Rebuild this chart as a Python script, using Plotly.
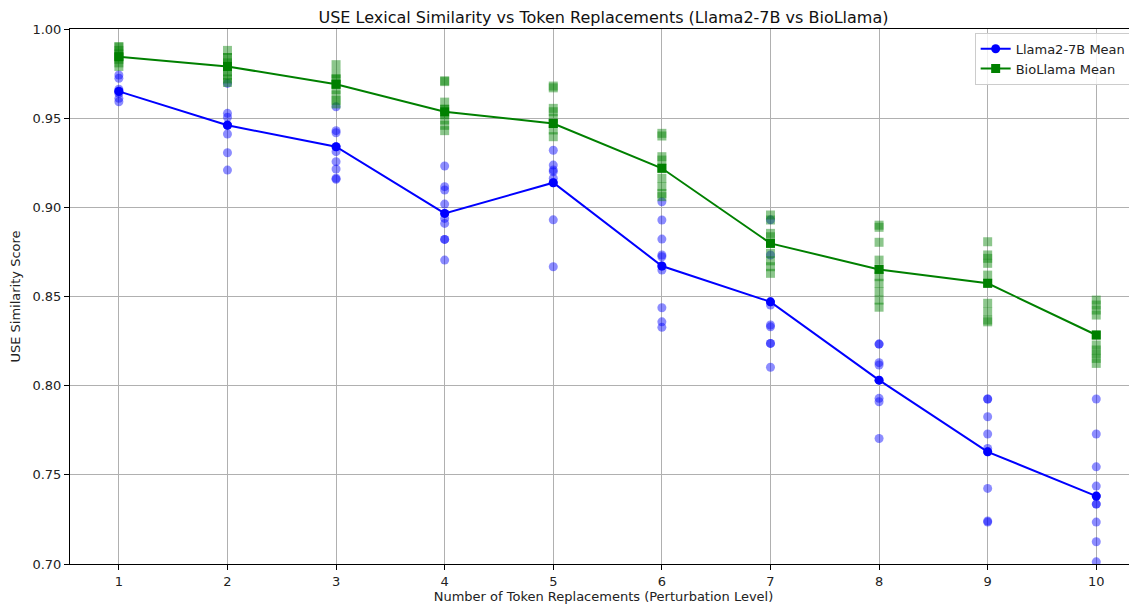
import plotly.graph_objects as go

levels = [1, 2, 3, 4, 5, 6, 7, 8, 9, 10]

llama_mean = [0.965, 0.946, 0.934, 0.8966, 0.9138, 0.8671, 0.847, 0.8031, 0.7629, 0.7381]
bio_mean = [0.9845, 0.979, 0.969, 0.9536, 0.947, 0.9219, 0.8798, 0.8652, 0.8574, 0.8284]

llama_samples = [
    [0.9742, 0.9724, 0.9662, 0.9652, 0.9639, 0.9611, 0.9592, 0.965],
    [0.9695, 0.9527, 0.9505, 0.9462, 0.9411, 0.9306, 0.9209, 0.946],
    [0.9564, 0.943, 0.9418, 0.934, 0.9312, 0.9256, 0.9215, 0.9163, 0.9157],
    [0.9232, 0.9116, 0.9097, 0.9018, 0.8966, 0.8938, 0.891, 0.882, 0.8704, 0.882],
    [0.932, 0.9237, 0.921, 0.9163, 0.9138, 0.893, 0.8667, 0.92],
    [0.9031, 0.8929, 0.8822, 0.8733, 0.8723, 0.8671, 0.8648, 0.8437, 0.8358, 0.8327],
    [0.893, 0.8733, 0.847, 0.8452, 0.834, 0.833, 0.8237, 0.8103, 0.8237],
    [0.8233, 0.8129, 0.8116, 0.8031, 0.7929, 0.791, 0.7704, 0.8233],
    [0.7925, 0.7826, 0.7729, 0.7648, 0.7629, 0.7424, 0.7241, 0.7235, 0.7925],
    [0.7925, 0.7729, 0.7545, 0.7437, 0.7381, 0.7336, 0.7235, 0.7125, 0.7012, 0.7336],
]

bio_samples = [
    [0.990, 0.988, 0.986, 0.985, 0.984, 0.983, 0.981, 0.979, 0.990],
    [0.988, 0.984, 0.981, 0.979, 0.976, 0.974, 0.972, 0.970, 0.984],
    [0.980, 0.975, 0.972, 0.969, 0.966, 0.963, 0.960, 0.958, 0.972],
    [0.9705, 0.971, 0.959, 0.955, 0.952, 0.949, 0.946, 0.943, 0.955],
    [0.968, 0.967, 0.9555, 0.9536, 0.947, 0.9434, 0.9396, 0.950],
    [0.9415, 0.940, 0.9284, 0.9265, 0.9219, 0.9163, 0.9116, 0.9078, 0.906],
    [0.8957, 0.8929, 0.8854, 0.8835, 0.8798, 0.8742, 0.870, 0.8667, 0.863],
    [0.890, 0.8888, 0.8804, 0.8704, 0.8652, 0.8611, 0.8574, 0.8527, 0.848, 0.844],
    [0.8807, 0.8733, 0.8714, 0.8686, 0.862, 0.8574, 0.8462, 0.8414, 0.8368, 0.8358],
    [0.848, 0.8452, 0.8424, 0.8396, 0.8284, 0.8228, 0.820, 0.8177, 0.8153, 0.8125],
]

BLUE = "#0000ff"
GREEN = "#008000"

fig = go.Figure()

lx, ly = [], []
for lv, vals in zip(levels, llama_samples):
    lx += [lv] * len(vals)
    ly += vals
bx, by = [], []
for lv, vals in zip(levels, bio_samples):
    bx += [lv] * len(vals)
    by += vals

fig.add_trace(go.Scatter(x=lx, y=ly, mode="markers", showlegend=False,
                         marker=dict(symbol="circle", size=9, color=BLUE, opacity=0.45,
                                     line=dict(width=0))))
fig.add_trace(go.Scatter(x=bx, y=by, mode="markers", showlegend=False,
                         marker=dict(symbol="square", size=9, color=GREEN, opacity=0.45,
                                     line=dict(width=0))))

fig.add_trace(go.Scatter(x=levels, y=llama_mean, mode="lines+markers", name="Llama2-7B Mean",
                         line=dict(color=BLUE, width=2),
                         marker=dict(symbol="circle", size=9, color=BLUE)))
fig.add_trace(go.Scatter(x=levels, y=bio_mean, mode="lines+markers", name="BioLlama Mean",
                         line=dict(color=GREEN, width=2),
                         marker=dict(symbol="square", size=9, color=GREEN)))

font = "DejaVu Sans, Arial, sans-serif"
fig.update_layout(
    width=1129, height=599,
    margin=dict(l=62, r=0, t=21, b=43),
    paper_bgcolor="white", plot_bgcolor="white",
    font=dict(family=font, size=13, color="#222222"),
    title=dict(text="USE Lexical Similarity vs Token Replacements (Llama2-7B vs BioLlama)",
               x=0.5, xref="paper", xanchor="center",
               y=0.993, yref="container", yanchor="top", pad=dict(t=0, b=0),
               font=dict(size=16, color="#111111")),
    legend=dict(x=0.995, y=0.993, xanchor="right", yanchor="top",
                bgcolor="rgba(255,255,255,0.8)", bordercolor="#cccccc", borderwidth=1,
                font=dict(size=13)),
    showlegend=True,
)
fig.update_xaxes(range=[0.55, 10.375], tickmode="array", tickvals=levels,
                 ticktext=[str(v) for v in levels],
                 showgrid=True, gridcolor="#b0b0b0", gridwidth=1,
                 showline=True, linecolor="black", linewidth=1, mirror=True,
                 ticks="outside", ticklen=5, tickcolor="black",
                 zeroline=False,
                 title=dict(text="Number of Token Replacements (Perturbation Level)", standoff=3,
                            font=dict(size=13)))
fig.update_yaxes(range=[0.70, 1.00], tickmode="array",
                 tickvals=[0.70, 0.75, 0.80, 0.85, 0.90, 0.95, 1.00],
                 ticktext=["0.70", "0.75", "0.80", "0.85", "0.90", "0.95", "1.00"],
                 showgrid=True, gridcolor="#b0b0b0", gridwidth=1,
                 showline=True, linecolor="black", linewidth=1, mirror=True,
                 ticks="outside", ticklen=5, tickcolor="black",
                 zeroline=False,
                 title=dict(text="USE Similarity Score", standoff=8, font=dict(size=13)))

fig.write_html("out.html")
